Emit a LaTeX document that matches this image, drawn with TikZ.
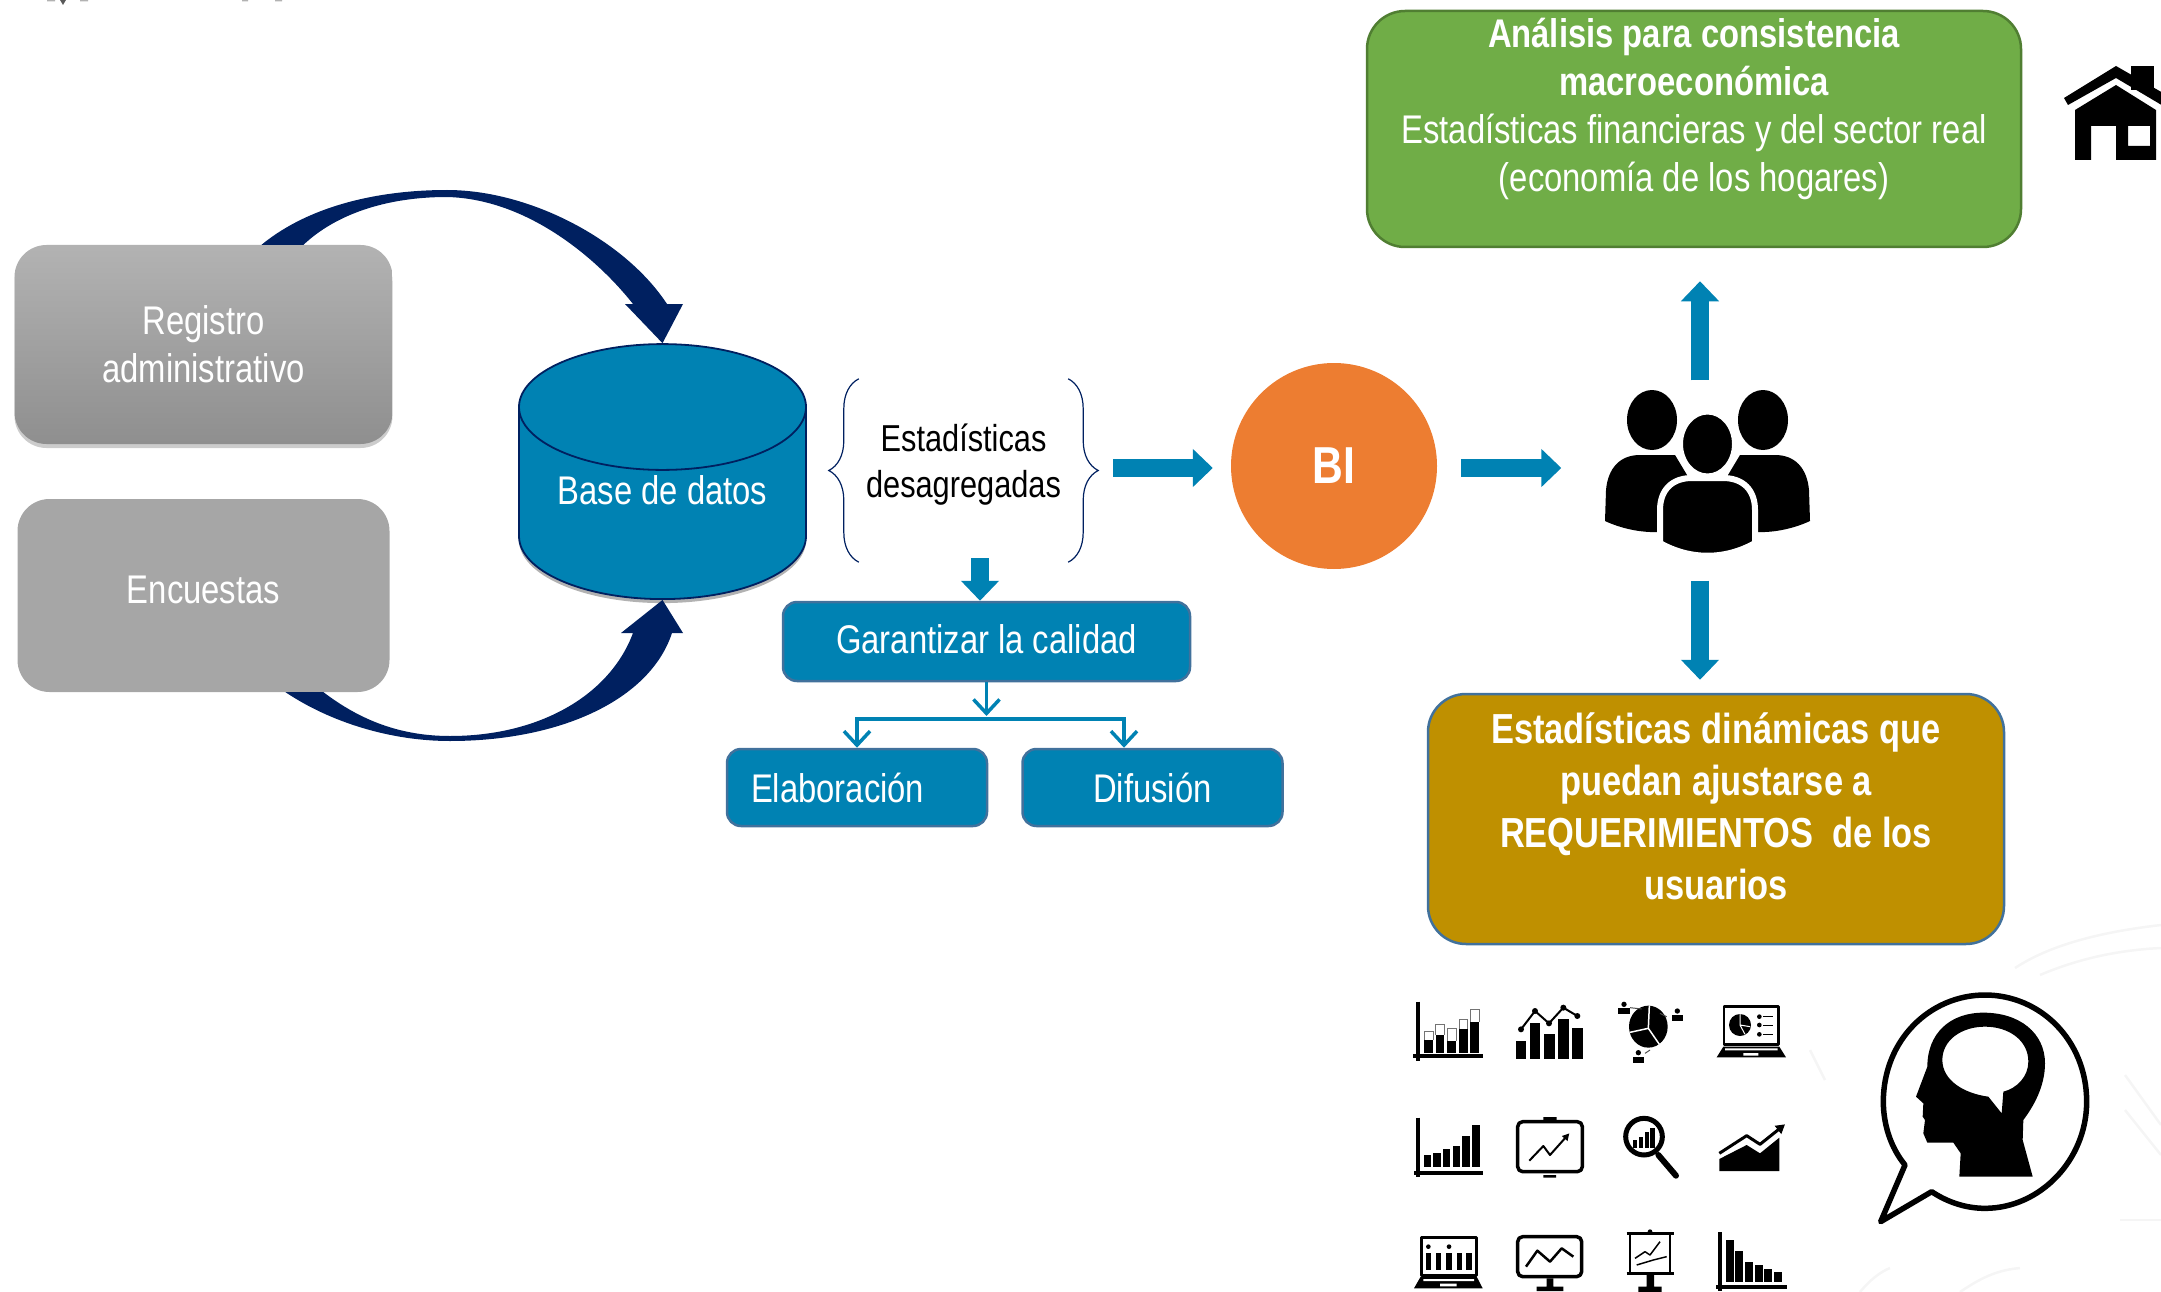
\documentclass[tikz,border=0pt]{standalone}
\usepackage{fontspec}
\setmainfont[FakeStretch=0.82]{Liberation Sans}
\usetikzlibrary{shapes,arrows.meta,shadows,decorations.pathreplacing}
\definecolor{mainblue}{HTML}{0082B3}
\definecolor{edgeblue}{HTML}{41719C}
\definecolor{navy}{HTML}{002060}
\definecolor{boxgreen}{HTML}{70AD47}
\definecolor{edgegreen}{HTML}{507E32}
\definecolor{boxgold}{HTML}{BF9000}
\definecolor{boxorange}{HTML}{ED7D31}
\tikzstyle{txt}=[text=white,align=center,inner sep=0pt,font=\fontsize{40}{48}\selectfont]
\tikzstyle{graybox}=[txt,rounded corners=32pt]
\tikzstyle{bluebox}=[txt,fill=mainblue,draw=edgeblue,line width=2.5pt,rounded corners=14pt]
\tikzstyle{blockarrow}=[draw=mainblue,line width=18pt,-{Triangle[length=20pt,width=37pt]}]
\tikzstyle{treeline}=[draw=mainblue,line width=3.5pt]
\tikzstyle{thebrace}=[draw=navy,line width=1.2pt,decorate,decoration={brace,amplitude=30pt}]
\tikzstyle{icon}=[line width=2pt,draw=black,line join=round]
\begin{document}
\begin{tikzpicture}[x=1pt,y=-1pt]
    \path[use as bounding box,clip] (0,0) rectangle (2161,1292);
    % faint marks behind the pictures
    \begin{scope}[draw=black!4,line width=2.5pt]
        \draw (2015,968) .. controls (2050,945) and (2100,932) .. (2161,925);
        \draw (2040,975) .. controls (2080,958) and (2120,950) .. (2161,948);
        \draw (2125,1075) -- (2161,1125);
        \draw (2125,1110) -- (2161,1155);
        \draw (2120,1220) -- (2161,1220);
        \draw (1860,1292) .. controls (1870,1280) and (1880,1272) .. (1890,1268);
        \draw (1960,1292) .. controls (1985,1275) and (2000,1270) .. (2020,1268);
        \draw (1810,1050) -- (1825,1080);
    \end{scope}
    \fill[black!65] (60,0) -- (66,0) -- (63,5) -- cycle;
    \fill[black!30] (47,0) rectangle (55,1.5) (80,0) rectangle (88,1.5) (242,0) rectangle (248,1.5) (275,0) rectangle (282,1.5);

    \node[graybox,top color=black!30,bottom color=black!44,drop shadow={shadow xshift=0pt,shadow yshift=-4pt,fill=black!50,opacity=.4},minimum width=378pt,minimum height=199pt] (registro) at (203.5,344.5) {Registro\\administrativo};
    \node[graybox,fill=black!35,minimum width=372pt,minimum height=193pt,node distance=251pt,below of=registro,text height=30pt,text depth=15pt] (encuestas) {Encuestas};
    \node[txt,cylinder,shape border rotate=90,aspect=0.6,draw=navy,line width=1.8pt,fill=mainblue,drop shadow={shadow xshift=0pt,shadow yshift=-4pt,fill=black!60,opacity=.5},minimum width=287pt,minimum height=255pt,text height=29pt,text depth=28pt] (base) at (662.5,503.5) {Base de datos};
    \node[text=black,align=center,inner sep=0pt,font=\fontsize{37.5}{46}\selectfont,minimum width=209pt,minimum height=183pt] (desag) at (963.5,470.5) {\mbox{}\\[-30pt]Estadísticas\\desagregadas};
    \node[bluebox,minimum width=407pt,minimum height=79pt,text height=30pt,text depth=7pt] (calidad) at (986.5,641.5) {Garantizar la calidad};
    \node[bluebox,text width=212pt,align=left,inner xsep=24pt,minimum height=77pt] (elaboracion) at (857,787.5) {Elaboración};
    \node[bluebox,minimum width=260pt,minimum height=77pt,node distance=295.5pt,right of=elaboracion] (difusion) {Difusión};
    \node[txt,circle,fill=boxorange,minimum size=206pt,font=\fontsize{52}{60}\selectfont\bfseries] (bi) at (1334,466) {BI};
    \node[minimum width=204pt,minimum height=167pt,inner sep=0pt] (users) at (1707.5,472) {};
    \node[txt,fill=boxgreen,draw=edgegreen,line width=2.5pt,rounded corners=38pt,minimum width=654pt,minimum height=236pt] (analisis) at (1694,129) {{\bfseries Análisis para consistencia}\\{\bfseries macroeconómica}\\Estadísticas financieras y del sector real\\(economía de los hogares)\\ \mbox{}};
    \node[txt,fill=boxgold,draw=edgeblue,line width=2.5pt,rounded corners=38pt,minimum width=576pt,minimum height=250pt,font=\fontsize{42}{52}\selectfont\bfseries] (dinamicas) at (1716,819) {\mbox{}\\[-46pt]Estadísticas dinámicas que\\puedan ajustarse a\\REQUERIMIENTOS~ de los\\usuarios};

    % curved arrows
    \fill[navy] ([xshift=58pt]registro.north) .. controls (310,205) and (380,190) .. (447,190)
        .. controls (530,190) and (625,240) .. (667,304) -- (683,304) -- (base.north) -- (625,304) -- (633,304)
        .. controls (600,262) and (530,199) .. (447,197) .. controls (385,197) and (335,215) .. ([xshift=100pt]registro.north) -- cycle;
    \fill[navy] ([xshift=82pt]encuestas.south) .. controls (330,722) and (390,741) .. (450,741)
        .. controls (560,741) and (650,700) .. (672,633) -- (683,633) -- (base.south) -- (621,633) -- (633,633)
        .. controls (610,695) and (540,736) .. (450,736) .. controls (400,736) and (360,720) .. ([xshift=120pt]encuestas.south) -- cycle;

    % braces
    \draw[thebrace] (desag.south west) -- (desag.north west);
    \draw[thebrace] (desag.north east) -- (desag.south east);

    % block arrows
    \draw[blockarrow,shorten <=45pt,shorten >=18pt] ([yshift=-2pt]desag.east |- bi.west) -- ([yshift=-2pt]bi.west);
    \draw[blockarrow,shorten <=24pt,shorten >=44pt] ([yshift=-2pt]bi.east) -- ([yshift=-2pt]bi.east -| users.west);
    \draw[blockarrow,shorten <=8pt,shorten >=33pt] ([xshift=-7.5pt]users.north) -- ([xshift=-7.5pt]users.north |- analisis.south);
    \draw[blockarrow,shorten <=25pt,shorten >=13pt] ([xshift=-7.5pt]users.south) -- ([xshift=-7.5pt]users.south |- dinamicas.north);
    \draw[blockarrow,shorten <=-4pt] ([xshift=16.5pt]desag.south) -- ([xshift=16.5pt]desag.south |- calidad.north);

    % tree under the quality box
    \coordinate (bar) at (986.5,719);
    \draw[treeline,-{Straight Barb[length=14pt,width=26pt]}] (calidad.south) -- ([yshift=3pt]bar);
    \draw[treeline,{Straight Barb[length=14pt,width=26pt]}-{Straight Barb[length=14pt,width=26pt]}] (elaboracion.north) |- (bar) -| ([xshift=-28.5pt]difusion.north);

    % users
    \fill (1652,420) ellipse (25 and 30);
    \fill (1763,420) ellipse (25 and 30);
    \fill (1605,521) -- (1606,490) .. controls (1608,468) and (1620,455) .. (1640,455) -- (1675,455) -- (1690,480) -- (1660,532) .. controls (1640,533) and (1620,528) .. (1605,521) -- cycle;
    \fill (1810,521) -- (1809,490) .. controls (1807,468) and (1795,455) .. (1775,455) -- (1740,455) -- (1725,480) -- (1755,532) .. controls (1775,533) and (1795,528) .. (1810,521) -- cycle;
    \draw[white,line width=6pt,fill=black] (1660,543) -- (1660,510) .. controls (1660,490) and (1672,478) .. (1692,478) -- (1723,478) .. controls (1743,478) and (1755,490) .. (1755,510) -- (1755,543) .. controls (1725,560) and (1690,560) .. (1660,543) -- cycle;
    \draw[white,line width=5pt,fill=black] (1707.5,444) ellipse (27 and 32);

    % house
    \fill (2064,98) -- (2116,66) -- (2170,97) -- (2170,110) -- (2116,78) -- (2068,105) -- cycle;
    \fill (2131,66) rectangle (2154,90);
    \fill[even odd rule] (2116,85) -- (2075,110) -- (2075,160) -- (2091,160) -- (2091,126) -- (2116,126) -- (2116,160) -- (2156,160) -- (2156,110) -- cycle (2128,126) rectangle (2150,146);

    % head in speech bubble
    \begin{scope}[shift={(1840,920)},x=1pt/3,y=-1pt/3]
        \draw[line width=5.5pt,line join=round] (195,735) .. controls (150,680) and (130,610) .. (130,545) .. controls (130,360) and (270,225) .. (435,225)
            .. controls (600,225) and (740,360) .. (740,545) .. controls (740,720) and (600,865) .. (435,865) .. controls (375,865) and (320,845) .. (275,815) -- (122,905) -- cycle;
        \fill[even odd rule] (262,440) .. controls (262,340) and (330,278) .. (430,278) .. controls (540,278) and (615,340) .. (615,430) .. controls (615,500) and (580,560) .. (550,600)
            -- (548,660) -- (578,770) -- (358,770) -- (362,700) -- (340,668) -- (262,668) -- (250,640) -- (255,600) -- (248,590) -- (250,550) -- (228,530) -- cycle
            (445,530) .. controls (370,520) and (307,480) .. (307,420) .. controls (307,360) and (365,320) .. (435,320) .. controls (505,320) and (565,360) .. (565,425) .. controls (565,470) and (530,505) .. (490,515) -- (485,580) -- cycle;
    \end{scope}

    % chart icons
    \begin{scope}[shift={(1400,985)},x=1pt/3,y=-1pt/3]
        % first row
        \draw[icon,line width=4pt] (55,50) -- (55,228) (40,214) -- (250,214);
        \foreach \x/\t/\u in {86/165/140,120/150/118,155/168/130,190/133/102,224/110/72} {
            \fill (\x-13,\t) rectangle (\x+13,205);
            \draw[black!55,line width=1pt] (\x-13,\t) -- (\x-13,\u) -- (\x+13,\u) -- (\x+13,\t);
        }
        \foreach \x/\t in {363/168,405/115,449/148,490/103,532/128}
            \fill (\x-16,\t) rectangle (\x+16,222);
        \draw[icon] (363,133) -- (405,78) -- (447,115) -- (490,68) -- (532,93);
        \foreach \x/\t in {363/133,405/78,447/115,490/68,532/93}
            \fill (\x,\t) circle (9);
        \fill (745,125) ellipse (58 and 63);
        \draw[white,line width=1.5pt] (748,62) -- (745,130) (690,142) -- (745,130) -- (778,178);
        \foreach \x/\t in {672/70,832/90,715/215} {
            \fill (\x,\t-12) circle (8);
            \fill (\x-17,\t) rectangle (\x+17,\t+18);
        }
        \draw[black!70,line width=1pt] (690,68) -- (725,72) (800,95) -- (780,85) (735,205) -- (750,195);
        \draw[icon,line width=2.5pt] (972,64) rectangle (1136,178);
        \fill (970,185) -- (1138,185) -- (1158,217) -- (950,217) -- cycle;
        \fill[white] (975,190) rectangle (1133,196) (1030,204) rectangle (1075,212);
        \fill (1020,120) circle (33);
        \draw[white,line width=1pt] (1020,120) -- (1020,87) (1020,120) -- (1050,125) (1020,120) -- (1035,148);
        \foreach \t in {95,120,148} {
            \fill (1078,\t) circle (7);
            \draw[icon,line width=1pt] (1090,\t) -- (1118,\t);
        }
        % second row
        \draw[icon,line width=4pt] (55,398) -- (55,575) (42,563) -- (250,563);
        \foreach \x/\t in {82/510,111/505,140/492,170/483,198/453,228/420}
            \fill (\x-11,\t) rectangle (\x+11,545);
        \draw[icon,line width=3.5pt,rounded corners=5pt] (353,410) rectangle (547,560);
        \fill (430,396) rectangle (470,405) (430,570) rectangle (468,578);
        \draw[icon,-{Triangle[length=7pt,width=7pt]}] (388,527) -- (430,483) -- (450,510) -- (508,445);
        \draw[line width=5pt] (732,455) circle (55);
        \draw[line width=6pt,line cap=round] (775,510) -- (828,572);
        \foreach \x/\t in {705/465,723/455,741/440,758/430}
            \fill (\x-7,\t) rectangle (\x+7,490);
        \fill (958,558) -- (958,522) -- (1040,480) -- (1080,505) -- (1138,458) -- (1138,558) -- cycle;
        \draw[icon,line width=3pt,-{Triangle[length=9pt,width=10pt]}] (958,505) -- (1040,452) -- (1080,478) -- (1155,418);
        % third row
        \draw[icon,line width=3pt] (65,757) rectangle (230,870);
        \foreach \x/\t in {85/805,115/805,147/805,178/805,207/805} {
            \fill (\x-8,\t) rectangle (\x+8,855);
        }
        \fill (85,785) circle (7) (147,785) circle (7);
        \fill (62,875) -- (230,875) -- (248,910) -- (42,910) -- cycle;
        \fill[white] (70,882) rectangle (222,888) (120,896) rectangle (170,904);
        \draw[icon,line width=3.5pt,rounded corners=5pt] (353,755) rectangle (545,875);
        \draw[icon,line width=2.5pt] (378,845) -- (412,797) -- (450,830) -- (485,790) -- (520,815);
        \fill (440,880) rectangle (460,905) (410,905) rectangle (490,918);
        \draw[icon,line width=2.5pt] (680,745) -- (822,745) (680,865) -- (822,865) (690,745) -- (690,865) (810,745) -- (810,865);
        \fill (750,740) circle (7);
        \draw[icon,line width=1.5pt] (705,820) -- (735,800) -- (750,810) -- (780,770) (710,840) -- (760,825) -- (800,815);
        \fill (740,870) rectangle (762,905) (715,905) rectangle (785,921);
        \draw[icon,line width=4pt] (960,742) -- (960,918) (948,907) -- (1160,907);
        \foreach \x/\t in {990/765,1018/798,1047/830,1077/840,1105/852,1133/860}
            \fill (\x-12,\t) rectangle (\x+12,890);
    \end{scope}
\end{tikzpicture}
\end{document}
